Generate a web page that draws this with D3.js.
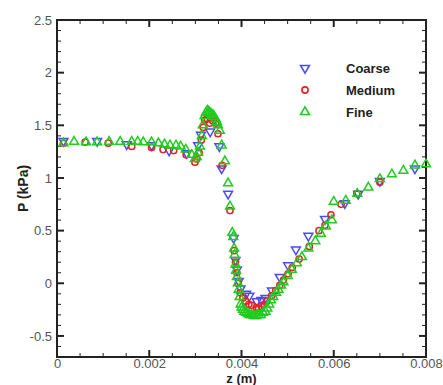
<!DOCTYPE html>
<html>
<head>
<meta charset="utf-8">
<script src="https://cdn.jsdelivr.net/npm/d3@7"></script>
<style>
  body { margin: 0; background: #fff; }
  svg { display: block; font-family: "Liberation Sans", Arial, sans-serif; }
</style>
</head>
<body>
<svg id="chart" width="443" height="385"></svg>
<script>
// z (m) and P (kPa)
const coarseZ = [0.00014, 0.00087, 0.00151, 0.00205, 0.00243, 0.00281, 0.00306, 0.00312, 0.00332, 0.00352, 0.00357, 0.00371, 0.00383, 0.00387, 0.0039, 0.00394, 0.00398, 0.0041, 0.00417, 0.00433, 0.00443, 0.00452, 0.00466, 0.00483, 0.00501, 0.00518, 0.00545, 0.00581, 0.00624, 0.00653, 0.007, 0.00776];
const coarseP = [1.35, 1.35, 1.32, 1.31, 1.26, 1.235, 1.31, 1.41, 1.44, 1.30, 1.09, 0.85, 0.43, 0.22, 0.13, 0.02, -0.05, -0.1, -0.12, -0.17, -0.16, -0.14, -0.07, 0.06, 0.17, 0.32, 0.45, 0.61, 0.76, 0.85, 0.97, 1.09];

const mediumZ = [0.00014, 0.00061, 0.00111, 0.00162, 0.00205, 0.0023, 0.00253, 0.0028, 0.00299, 0.00303, 0.00308, 0.00313, 0.00317, 0.0032, 0.00326, 0.00331, 0.00338, 0.00344, 0.00349, 0.00358, 0.00375, 0.00384, 0.00387, 0.0039, 0.00393, 0.00397, 0.00403, 0.00409, 0.00416, 0.00422, 0.00432, 0.00437, 0.00443, 0.00449, 0.00455, 0.00465, 0.00474, 0.00483, 0.00491, 0.00501, 0.0051, 0.00525, 0.00547, 0.00568, 0.00581, 0.00594, 0.00616, 0.0065, 0.007];
const mediumP = [1.33, 1.34, 1.33, 1.30, 1.29, 1.27, 1.26, 1.22, 1.15, 1.18, 1.24, 1.36, 1.48, 1.55, 1.56, 1.52, 1.54, 1.52, 1.42, 1.12, 0.69, 0.31, 0.2, 0.1, 0.0, -0.09, -0.14, -0.17, -0.2, -0.21, -0.23, -0.24, -0.22, -0.2, -0.17, -0.12, -0.07, -0.02, 0.03, 0.09, 0.15, 0.23, 0.35, 0.50, 0.55, 0.65, 0.75, 0.85, 0.96];

const fineZ = [0.00014, 0.00037, 0.00063, 0.00087, 0.00113, 0.00137, 0.00162, 0.00175, 0.00187, 0.00205, 0.0022, 0.00233, 0.00245, 0.00258, 0.00268, 0.00279, 0.00292, 0.00299, 0.00303, 0.00306, 0.0031, 0.00314, 0.00316, 0.0032, 0.00323, 0.00326, 0.00329, 0.00331, 0.00334, 0.00338, 0.00341, 0.00344, 0.00347, 0.00349, 0.00353, 0.00357, 0.00364, 0.00371, 0.00375, 0.0038, 0.00382, 0.00384, 0.00385, 0.00387, 0.00388, 0.0039, 0.00392, 0.00394, 0.00396, 0.00398, 0.004, 0.00403, 0.00406, 0.0041, 0.00414, 0.00418, 0.00422, 0.00427, 0.00432, 0.00437, 0.00442, 0.00447, 0.00452, 0.00456, 0.0046, 0.00464, 0.00469, 0.00475, 0.0048, 0.00486, 0.00491, 0.005, 0.00509, 0.0052, 0.00531, 0.00545, 0.0056, 0.00572, 0.00583, 0.00596, 0.006, 0.00626, 0.00651, 0.00675, 0.007, 0.00726, 0.00751, 0.00776, 0.008];
const fineP = [1.33, 1.345, 1.34, 1.34, 1.345, 1.345, 1.345, 1.345, 1.34, 1.34, 1.33, 1.32, 1.31, 1.31, 1.30, 1.27, 1.22, 1.18, 1.2, 1.24, 1.30, 1.40, 1.50, 1.59, 1.62, 1.64, 1.63, 1.62, 1.61, 1.60, 1.58, 1.56, 1.53, 1.50, 1.45, 1.31, 1.16, 0.95, 0.73, 0.48, 0.44, 0.33, 0.27, 0.18, 0.12, 0.06, 0.0, -0.06, -0.13, -0.2, -0.23, -0.25, -0.27, -0.28, -0.29, -0.3, -0.3, -0.31, -0.31, -0.3, -0.3, -0.28, -0.27, -0.24, -0.2, -0.16, -0.13, -0.09, -0.06, -0.02, 0.01, 0.07, 0.13, 0.19, 0.25, 0.33, 0.40, 0.47, 0.54, 0.60, 0.775, 0.785, 0.85, 0.91, 0.99, 1.035, 1.07, 1.12, 1.13];

const xTicks = [0, 0.002, 0.004, 0.006, 0.008];
const yTicks = [-0.5, 0, 0.5, 1, 1.5, 2, 2.5];
const seriesNames = ["Coarse", "Medium", "Fine"];

const svg = d3.select("#chart");
const margin = { top: 20, right: 17, bottom: 28, left: 57 };
const width = 443, height = 385;

const x = d3.scaleLinear().domain([0, 0.008]).range([margin.left, width - margin.right]);
const y = d3.scaleLinear().domain([-0.7, 2.5]).range([height - margin.bottom, margin.top]);

const series = [
    { name: seriesNames[0], z: coarseZ, p: coarseP, color: "#4a4aff", shape: "down" },
    { name: seriesNames[1], z: mediumZ, p: mediumP, color: "#e52222", shape: "circle" },
    { name: seriesNames[2], z: fineZ, p: fineP, color: "#1fcc1f", shape: "up" }
];

const tri = d3.symbol().type(d3.symbolTriangle).size(34);
const drawMarker = (sel, shape) => {
    if (shape === "circle") {
        sel.append("circle").attr("r", 3.1);
    } else {
        sel.append("path")
            .attr("d", tri)
            .attr("transform", shape === "down" ? "rotate(180)" : null);
    }
};

// minor + major ticks on all four sides, pointing inward
const xMinor = d3.range(0, 0.00801, 0.0005);
const yMinor = d3.range(-0.7, 2.501, 0.1).map(v => +v.toFixed(2));
const axes = svg.append("g").attr("stroke", "#222").attr("stroke-width", 1);

const bottomY = y.range()[0], topY = y.range()[1];
const leftX = x.range()[0], rightX = x.range()[1];

xMinor.forEach(v => {
    const major = xTicks.some(t => Math.abs(t - v) < 1e-9);
    const len = major ? 7 : 4;
    axes.append("line").attr("x1", x(v)).attr("x2", x(v)).attr("y1", bottomY).attr("y2", bottomY - len)
        .attr("stroke-width", major ? 2 : 1);
    axes.append("line").attr("x1", x(v)).attr("x2", x(v)).attr("y1", topY).attr("y2", topY + len)
        .attr("stroke-width", major ? 2 : 1);
});
yMinor.forEach(v => {
    const major = yTicks.some(t => Math.abs(t - v) < 1e-9);
    const len = major ? 7 : 4;
    axes.append("line").attr("y1", y(v)).attr("y2", y(v)).attr("x1", leftX).attr("x2", leftX + len)
        .attr("stroke-width", major ? 2 : 1);
    axes.append("line").attr("y1", y(v)).attr("y2", y(v)).attr("x1", rightX).attr("x2", rightX - len)
        .attr("stroke-width", major ? 2 : 1);
});

svg.append("rect")
    .attr("x", leftX).attr("y", topY)
    .attr("width", rightX - leftX).attr("height", bottomY - topY)
    .attr("fill", "none").attr("stroke", "#222").attr("stroke-width", 2);

// tick labels
const xAxis = d3.axisBottom(x).tickValues(xTicks).tickSize(0).tickPadding(2)
    .tickFormat(d => d === 0 ? "0" : d3.format(".3f")(d));
svg.append("g")
    .attr("transform", `translate(0,${ bottomY })`)
    .call(xAxis)
    .call(g => g.select(".domain").remove())
    .selectAll("text").attr("font-size", 13).attr("fill", "#555").attr("font-family", "Liberation Sans, Arial, sans-serif");

const yAxis = d3.axisLeft(y).tickValues(yTicks).tickSize(0).tickPadding(5)
    .tickFormat(d => String(d));
svg.append("g")
    .attr("transform", `translate(${ leftX },0)`)
    .call(yAxis)
    .call(g => g.select(".domain").remove())
    .selectAll("text").attr("font-size", 13).attr("fill", "#555").attr("font-family", "Liberation Sans, Arial, sans-serif");

// axis titles
svg.append("text")
    .attr("transform", `translate(28,${ (topY + bottomY) / 2 }) rotate(-90)`)
    .attr("text-anchor", "middle")
    .attr("font-size", 14).attr("font-weight", "bold").attr("fill", "#222")
    .text("P (kPa)");
svg.append("text")
    .attr("x", (leftX + rightX) / 2).attr("y", 383)
    .attr("text-anchor", "middle")
    .attr("font-size", 13).attr("font-weight", "bold").attr("fill", "#222")
    .text("z (m)");

// markers
series.forEach(s => {
    const g = svg.append("g")
        .attr("fill", "none").attr("stroke", s.color).attr("stroke-width", 1.5);
    s.z.forEach((z, i) => {
        const m = g.append("g").attr("transform", `translate(${ x(z) },${ y(s.p[i]) })`);
        drawMarker(m, s.shape);
    });
});

// legend
const legend = svg.append("g").attr("transform", "translate(305,68)");
series.forEach((s, i) => {
    const row = legend.append("g").attr("transform", `translate(0,${ i * 22 })`);
    const m = row.append("g").attr("fill", "none").attr("stroke", s.color).attr("stroke-width", 1.6);
    drawMarker(m, s.shape);
    row.append("text")
        .attr("x", 41).attr("dy", "0.35em")
        .attr("font-size", 13).attr("font-weight", "bold").attr("fill", "#222")
        .text(s.name);
});
</script>
</body>
</html>
